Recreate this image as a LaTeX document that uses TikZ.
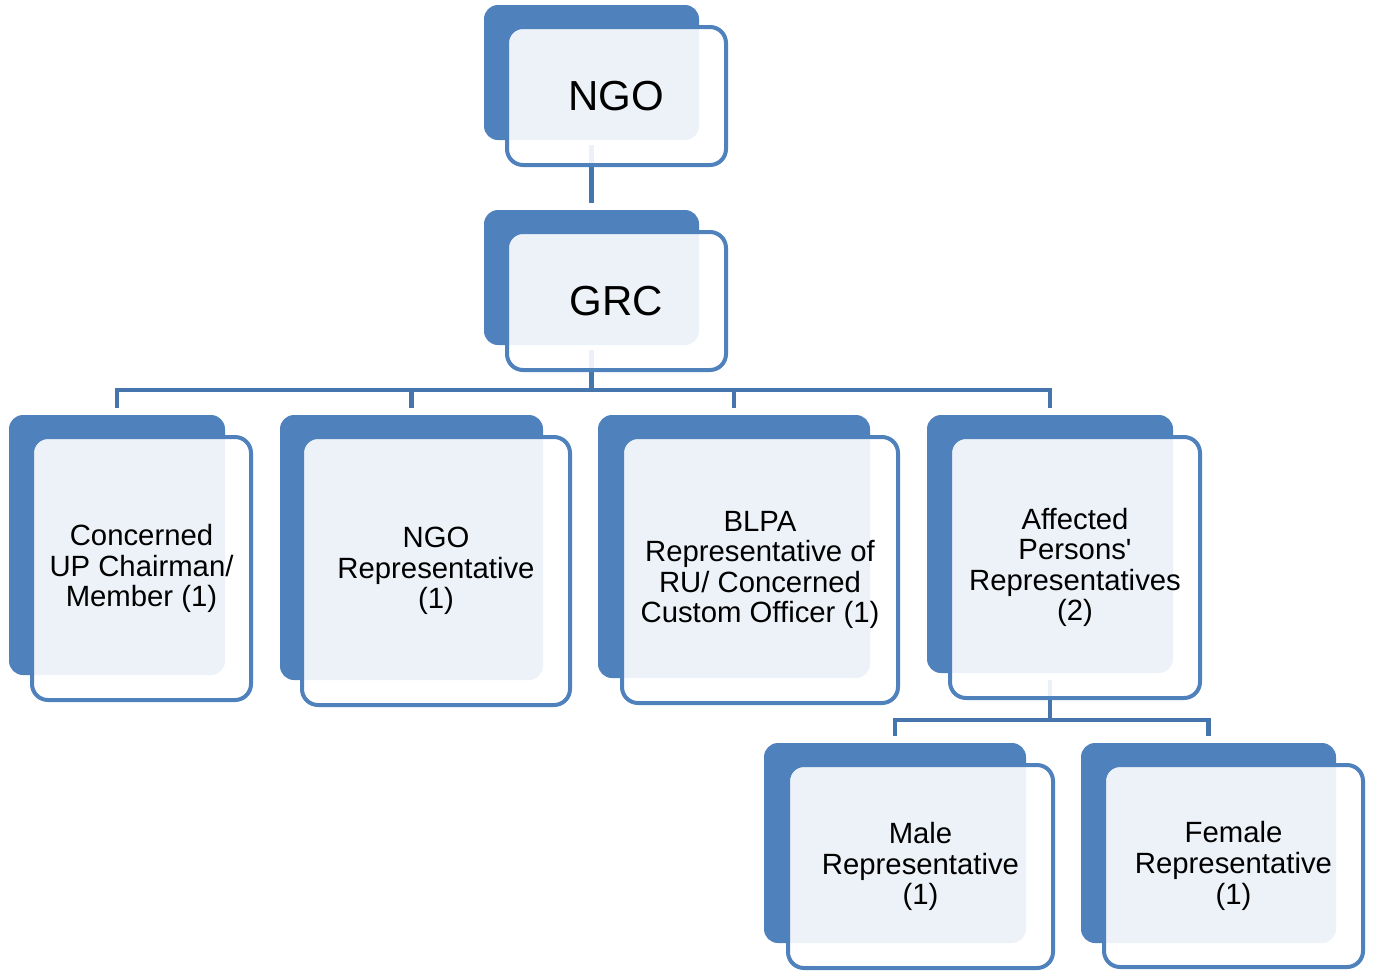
\documentclass[tikz,border=0pt]{standalone}
\usepackage{fontspec}
\setmainfont{Liberation Sans}
\usetikzlibrary{positioning}
\definecolor{darkblue}{HTML}{4F81BD}
\definecolor{linkblue}{HTML}{4675AE}

\tikzset{
  back/.style={rectangle, rounded corners=14pt, fill=darkblue, inner sep=0pt},
  front/.style={rectangle, rounded corners=16pt, draw=darkblue, line width=4pt,
    fill=white, fill opacity=0.9, text opacity=1, inner sep=0pt, align=center,
    font=\fontsize{29.3}{30.6}\selectfont},
  big/.style={font=\fontsize{42}{46}\selectfont},
  link/.style={draw=linkblue, line width=4.5pt, shorten <=5pt, shorten >=7pt}
}

\begin{document}
\begin{tikzpicture}[x=1pt,y=-1pt]
    \useasboundingbox (0,0) rectangle (1373,970);

    % back shapes
    \node[back, minimum width=215pt, minimum height=135pt] (ngob) at (591.5,72.5) {};
    \node[back, minimum width=215pt, minimum height=135pt] (grcb) at (591.5,277.5) {};
    \node[back, minimum width=216pt, minimum height=260pt] (upb) at (117,545) {};
    \node[back, minimum width=263pt, minimum height=265pt] (repb) at (411.5,547.5) {};
    \node[back, minimum width=272pt, minimum height=263pt] (blpab) at (734,546.5) {};
    \node[back, minimum width=246pt, minimum height=258pt] (apb) at (1050,544) {};
    \node[back, minimum width=262pt, minimum height=200pt] (maleb) at (895,843) {};
    \node[back, minimum width=255pt, minimum height=200pt] (femaleb) at (1208.5,843) {};

    % connectors
    \coordinate (bar1) at (0,390);
    \coordinate (bar2) at (0,720);
    \draw[link] (ngob.south) -- (grcb.north);
    \draw[link] (grcb.south) -- (grcb.south |- bar1) -| (upb.north);
    \draw[link] (grcb.south) -- (grcb.south |- bar1) -| (repb.north);
    \draw[link] (grcb.south) -- (grcb.south |- bar1) -| (blpab.north);
    \draw[link] (grcb.south) -- (grcb.south |- bar1) -| (apb.north);
    \draw[link, shorten <=7pt] (apb.south) -- (apb.south |- bar2) -| (maleb.north);
    \draw[link, shorten <=7pt] (apb.south) -- (apb.south |- bar2) -| (femaleb.north);

    % front boxes
    \node[front, big, minimum width=219pt, minimum height=138pt] (ngo) at (616.5,96) {NGO};
    \node[front, big, minimum width=219pt, minimum height=138pt] (grc) at (616.5,301) {GRC};
    \node[front, minimum width=219pt, minimum height=263pt] (up) at (141.5,568.5)
        {Concerned\\UP Chairman/\\Member (1)};
    \node[front, minimum width=268pt, minimum height=268pt] (rep) at (436,571)
        {NGO\\Representative\\(1)};
    \node[front, minimum width=276pt, minimum height=266pt] (blpa) at (760,570)
        {BLPA\\Representative of\\RU/ Concerned\\Custom Officer (1)};
    \node[front, minimum width=250pt, minimum height=261pt] (ap) at (1075,567.5)
        {Affected\\Persons\textquotesingle\\Representatives\\(2)};
    \node[front, minimum width=265pt, minimum height=203pt] (male) at (920.5,866.5)
        {Male\\Representative\\(1)};
    \node[front, minimum width=259pt, minimum height=202pt] (female) at (1233.5,866)
        {Female\\Representative\\(1)};
\end{tikzpicture}
\end{document}
